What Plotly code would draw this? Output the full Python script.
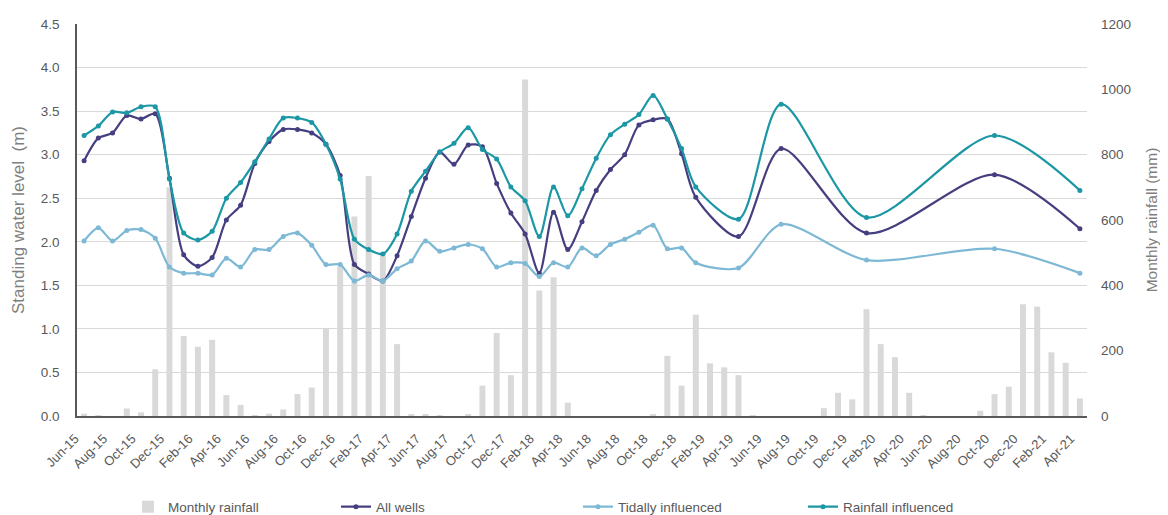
import plotly.graph_objects as go

# ---- categories (months) ----
months = [
    "Jun-15", "Jul-15", "Aug-15", "Sep-15", "Oct-15", "Nov-15", "Dec-15",
    "Jan-16", "Feb-16", "Mar-16", "Apr-16", "May-16", "Jun-16", "Jul-16", "Aug-16", "Sep-16", "Oct-16", "Nov-16", "Dec-16",
    "Jan-17", "Feb-17", "Mar-17", "Apr-17", "May-17", "Jun-17", "Jul-17", "Aug-17", "Sep-17", "Oct-17", "Nov-17", "Dec-17",
    "Jan-18", "Feb-18", "Mar-18", "Apr-18", "May-18", "Jun-18", "Jul-18", "Aug-18", "Sep-18", "Oct-18", "Nov-18", "Dec-18",
    "Jan-19", "Feb-19", "Mar-19", "Apr-19", "May-19", "Jun-19", "Jul-19", "Aug-19", "Sep-19", "Oct-19", "Nov-19", "Dec-19",
    "Jan-20", "Feb-20", "Mar-20", "Apr-20", "May-20", "Jun-20", "Jul-20", "Aug-20", "Sep-20", "Oct-20", "Nov-20", "Dec-20",
    "Jan-21", "Feb-21", "Mar-21", "Apr-21",
]

tick_labels = [
    "Jun-15", "Aug-15", "Oct-15", "Dec-15", "Feb-16", "Apr-16", "Jun-16", "Aug-16", "Oct-16", "Dec-16",
    "Feb-17", "Apr-17", "Jun-17", "Aug-17", "Oct-17", "Dec-17", "Feb-18", "Apr-18", "Jun-18", "Aug-18",
    "Oct-18", "Dec-18", "Feb-19", "Apr-19", "Jun-19", "Aug-19", "Oct-19", "Dec-19", "Feb-20", "Apr-20",
    "Jun-20", "Aug-20", "Oct-20", "Dec-20", "Feb-21", "Apr-21",
]

# ---- monthly rainfall (mm), right axis ----
rainfall = [
    7, 3, 0, 23, 11, 143, 700,
    245, 212, 233, 64, 34, 3, 7, 20, 67, 87, 269, 457,
    611, 735, 500, 220, 5, 5, 2, 0, 5, 93, 254, 125,
    1030, 384, 425, 41, 0, 0, 0, 0, 0, 5, 184, 93,
    310, 161, 149, 125, 3, 0, 0, 0, 0, 24, 71, 51,
    327, 220, 180, 71, 2, 0, 0, 0, 16, 67, 90, 342,
    335, 195, 163, 54,
]

# ---- standing water level (m), left axis ----
N = None
all_wells = [
    2.93, 3.19, 3.25, 3.45, 3.41, 3.47, 2.73,
    1.85, 1.72, 1.82, 2.25, 2.42, 2.90, 3.15, 3.29, 3.29, 3.25, 3.12, 2.76,
    1.74, 1.63, 1.55, 1.84, 2.29, 2.73, 3.03, 2.89, 3.11, 3.09, 2.67, 2.33,
    2.09, 1.64, 2.34, 1.91, 2.23, 2.59, 2.83, 3.00, 3.34, 3.40, 3.41, 3.01,
    2.51, N, N, 2.06, N, N, 3.07, N, N, N, N, N,
    2.10, N, N, N, N, N, N, N, N, 2.77, N, N,
    N, N, N, 2.15,
]

tidally = [
    2.01, 2.16, 2.01, 2.13, 2.14, 2.04, 1.71,
    1.64, 1.64, 1.62, 1.81, 1.71, 1.91, 1.91, 2.06, 2.10, 1.96, 1.74, 1.74,
    1.55, 1.62, 1.55, 1.69, 1.78, 2.01, 1.89, 1.93, 1.97, 1.92, 1.71, 1.76,
    1.75, 1.60, 1.76, 1.71, 1.93, 1.84, 1.97, 2.03, 2.11, 2.19, 1.92, 1.93,
    1.76, N, N, 1.70, N, N, 2.20, N, N, N, N, N,
    1.79, N, N, N, N, N, N, N, N, 1.92, N, N,
    N, N, N, 1.64,
]

rainfall_infl = [
    3.22, 3.33, 3.49, 3.48, 3.55, 3.55, 2.72,
    2.10, 2.02, 2.12, 2.50, 2.68, 2.92, 3.18, 3.42, 3.42, 3.37, 3.12, 2.72,
    2.03, 1.91, 1.86, 2.09, 2.58, 2.81, 3.03, 3.13, 3.31, 3.06, 2.95, 2.63,
    2.47, 2.06, 2.63, 2.30, 2.61, 2.96, 3.23, 3.35, 3.46, 3.68, 3.41, 3.07,
    2.63, N, N, 2.26, N, N, 3.58, N, N, N, N, N,
    2.28, N, N, N, N, N, N, N, N, 3.22, N, N,
    N, N, N, 2.59,
]

C_BAR = "#d9d9d9"
C_AW = "#453f80"
C_TI = "#7db9d5"
C_RI = "#1b97a5"
TXT = "#595959"
FONT = "Liberation Sans, Arial, sans-serif"

fig = go.Figure()

fig.add_trace(go.Bar(
    x=months, y=rainfall, name="Monthly rainfall",
    marker=dict(color=C_BAR, line=dict(width=0)), width=0.42,
    yaxis="y", legend="legend", showlegend=True,
))

for name, vals, col, lg in [
    ("All wells", all_wells, C_AW, "legend2"),
    ("Tidally influenced", tidally, C_TI, "legend3"),
    ("Rainfall influenced", rainfall_infl, C_RI, "legend4"),
]:
    fig.add_trace(go.Scatter(
        x=months, y=vals, name=name, mode="lines+markers",
        line=dict(color=col, width=2.2, shape="spline", smoothing=0.8),
        marker=dict(color=col, size=5),
        connectgaps=True, yaxis="y2", legend=lg,
    ))

legend_common = dict(
    orientation="h", yref="container", yanchor="middle", y=0.016, xanchor="left",
    font=dict(family=FONT, size=13.5, color=TXT), bgcolor="rgba(0,0,0,0)",
    itemwidth=30,
)

# the page body adds an 8px offset, so the figure is sized to fill the rest of the window
fig.update_layout(
    template="none",
    width=1160, height=507,
    margin=dict(l=69, r=81, t=16, b=99, autoexpand=False),
    paper_bgcolor="white", plot_bgcolor="white",
    font=dict(family=FONT, color=TXT),
    showlegend=True,
    bargap=0.5,
    xaxis=dict(
        type="category", tickmode="array", tickvals=tick_labels, ticktext=tick_labels,
        tickangle=-45, tickfont=dict(size=13, color=TXT), ticklabelstandoff=8, ticklabelshift=-9,
        showgrid=False, showline=True, linecolor="#595959", linewidth=2,
        ticks="", range=[-0.5, len(months) - 0.5], automargin=False, zeroline=False,
    ),
    yaxis=dict(
        side="right", range=[0, 1200], tickvals=[0, 200, 400, 600, 800, 1000, 1200],
        showgrid=False, zeroline=False, showline=False, ticks="", automargin=False,
        tickfont=dict(size=13.5, color=TXT), ticklabelstandoff=13,
        title=dict(text="Monthly rainfall (mm)", font=dict(size=15.5, color="#7f7f7f"), standoff=16),
    ),
    yaxis2=dict(
        overlaying="y", side="left", range=[0, 4.5], dtick=0.5, tickformat=".1f",
        showgrid=True, gridcolor="#d9d9d9", gridwidth=1, zeroline=False, ticks="", automargin=False,
        showline=True, linecolor="#595959", linewidth=1.5,
        tickfont=dict(size=13.5, color=TXT), ticklabelstandoff=13,
        title=dict(text="Standing water level  (m)", font=dict(size=17, color="#7f7f7f"), standoff=12),
    ),
    legend=dict(legend_common, x=0.0505),
    legend2=dict(legend_common, x=0.2564),
    legend3=dict(legend_common, x=0.496),
    legend4=dict(legend_common, x=0.7188),
)

fig.write_html("out.html")
